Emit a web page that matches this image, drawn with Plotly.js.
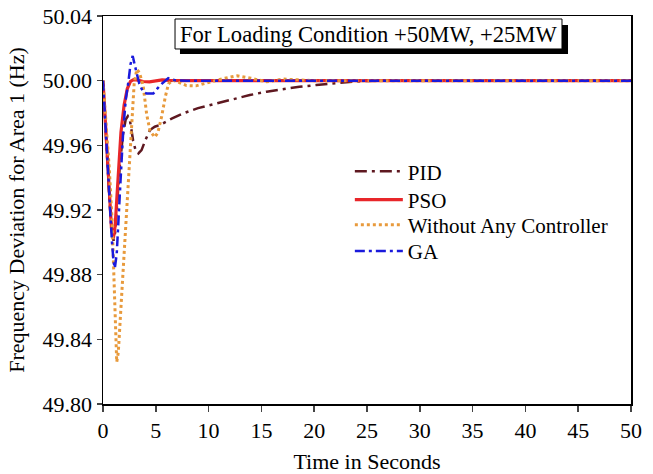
<!DOCTYPE html>
<html>
<head>
<meta charset="utf-8">
<script src="https://cdn.plot.ly/plotly-3.0.1.min.js"></script>
<style>html,body{margin:0;padding:0;background:#fff;}#chart{width:653px;height:474px;}</style>
</head>
<body>
<div id="chart"></div>
<script>
// ---- data ----
const seriesNames = ["PID", "PSO", "Without Any Controller", "GA"];

const tPID = [0, 0.2, 0.4, 0.6, 0.8, 1.0, 1.15, 1.35, 1.6, 1.9, 2.15, 2.35, 2.55, 2.85, 3.1, 3.35, 3.65, 4.0, 4.45, 4.9, 5.4, 6.5, 7.6, 9, 10.8, 12.3, 13.9, 15.5, 17.1, 18.6, 20.2, 22.1, 23.6, 25, 27, 50];
const fPID = [50.000, 49.975, 49.950, 49.927, 49.909, 49.901, 49.906, 49.925, 49.948, 49.967, 49.976, 49.978, 49.9755, 49.963, 49.9565, 49.955, 49.957, 49.963, 49.9695, 49.9715, 49.9726, 49.9765, 49.9798, 49.983, 49.986, 49.9888, 49.9911, 49.9932, 49.9948, 49.9962, 49.9973, 49.9987, 49.9994, 49.9998, 50.000, 50.000];

const tPSO = [0, 0.2, 0.4, 0.6, 0.8, 0.98, 1.15, 1.3, 1.45, 1.7, 2.0, 2.3, 2.6, 2.9, 3.3, 3.8, 4.4, 5.0, 5.6, 6.3, 7.5, 50];
const fPSO = [50.000, 49.975, 49.950, 49.927, 49.909, 49.9025, 49.910, 49.926, 49.945, 49.968, 49.985, 49.995, 49.9995, 50.0006, 50.0003, 49.9995, 49.9993, 49.9998, 50.0005, 50.0002, 50.000, 50.000];

const tNone = [0, 0.3, 0.6, 0.85, 1.05, 1.2, 1.3, 1.45, 1.7, 2.0, 2.4, 2.72, 2.95, 3.2, 3.45, 3.8, 4.14, 4.45, 4.9, 5.2, 5.56, 5.9, 6.2, 6.6, 7.2, 7.9, 8.8, 10, 11.5, 12.7, 14, 15.5, 17, 18.5, 20, 50];
const fNone = [50.000, 49.975, 49.945, 49.915, 49.870, 49.840, 49.826, 49.832, 49.860, 49.895, 49.940, 49.980, 49.998, 50.007, 50.005, 49.997, 49.979, 49.969, 49.965, 49.968, 49.978, 49.990, 49.998, 50.0005, 49.999, 49.997, 49.9968, 49.999, 50.0015, 50.003, 50.0015, 49.9993, 50.001, 50.0005, 50.000, 50.000];

const tGA = [0, 0.2, 0.4, 0.66, 0.85, 1.0, 1.12, 1.3, 1.5, 1.7, 1.92, 2.15, 2.4, 2.6, 2.81, 2.95, 3.12, 3.44, 3.8, 4.14, 4.76, 5.2, 5.56, 6.18, 6.8, 8, 50];
const fGA = [50.000, 49.975, 49.952, 49.926, 49.900, 49.888, 49.884, 49.893, 49.915, 49.943, 49.9695, 49.988, 49.999, 50.010, 50.0153, 50.012, 50.0066, 49.998, 49.993, 49.992, 49.992, 49.9955, 49.998, 50.0015, 50.0003, 50.000, 50.000];

const xTickVals = [0, 5, 10, 15, 20, 25, 30, 35, 40, 45, 50];
const yTickVals = [49.80, 49.84, 49.88, 49.92, 49.96, 50.00, 50.04];
const titleText = "For Loading Condition +50MW, +25MW";
const xTitle = "Time in Seconds";
const yTitle = "Frequency Deviation for Area 1 (Hz)";

// ---- chart ----
const FONT = "Liberation Serif, Times New Roman, serif";
const legendIds = ["legend", "legend2", "legend3", "legend4"];
const legendRowY = [0.5987, 0.5258, 0.4614, 0.3933];

const traces = [
  {x: tPID, y: fPID, name: seriesNames[0], mode: "lines", legend: legendIds[0],
   line: {color: "#5e1820", width: 2.5, dash: "12px,5px,3px,5px"}},
  {x: tPSO, y: fPSO, name: seriesNames[1], mode: "lines", legend: legendIds[1],
   line: {color: "#e8262a", width: 3.2}},
  {x: tNone, y: fNone, name: seriesNames[2], mode: "lines", legend: legendIds[2],
   line: {color: "#e89a3c", width: 3, dash: "3px,3px"}},
  {x: tGA, y: fGA, name: seriesNames[3], mode: "lines", legend: legendIds[3],
   line: {color: "#1a1adc", width: 2.5, dash: "10px,4px,3px,4px"}}
];

const axFont = {family: FONT, size: 22, color: "#000"};
const layout = {
  width: 653, height: 474,
  margin: {l: 103, r: 22, t: 16, b: 70, pad: 0},
  paper_bgcolor: "#fff", plot_bgcolor: "#fff",
  showlegend: true,
  hovermode: false,
  xaxis: {
    range: [0, 50], tickvals: xTickVals, ticks: "outside", ticklen: 6, tickwidth: 1.5,
    showline: true, linewidth: 1.5, linecolor: "#000", mirror: true,
    showgrid: false, zeroline: false, tickfont: axFont,
    title: {text: xTitle, font: axFont, standoff: 18}
  },
  yaxis: {
    range: [49.80, 50.04], tickvals: yTickVals, tickformat: ".2f", ticks: "outside", ticklen: 5, tickwidth: 1.5,
    showline: true, linewidth: 1.5, linecolor: "#000", mirror: true,
    showgrid: false, zeroline: false, tickfont: axFont,
    title: {text: yTitle, font: axFont, standoff: 12}
  },
  xaxis2: {
    overlaying: "x", anchor: "y", side: "bottom", range: [0, 50], tickvals: xTickVals,
    ticks: "inside", ticklen: 6, tickwidth: 1.5, showticklabels: false, showline: false,
    showgrid: false, zeroline: false,
    minor: {dtick: 2.5, tick0: 0, ticks: "inside", ticklen: 3, tickwidth: 1.2, tickcolor: "#000"}
  },
  yaxis2: {
    overlaying: "y", anchor: "x", side: "left", range: [49.80, 50.04], tickvals: yTickVals,
    ticks: "inside", ticklen: 5, tickwidth: 1.5, showticklabels: false, showline: false,
    showgrid: false, zeroline: false,
    minor: {dtick: 0.02, tick0: 49.80, ticks: "inside", ticklen: 3, tickwidth: 1.2, tickcolor: "#000"}
  },
  shapes: [
    {type: "rect", xref: "paper", yref: "paper", x0: 0.1458, x1: 0.8807, y0: 0.902, y1: 0.9768,
     fillcolor: "#000", line: {width: 0}, layer: "above"},
    {type: "rect", xref: "paper", yref: "paper", x0: 0.1364, x1: 0.8693, y0: 0.915, y1: 0.9923,
     fillcolor: "#fff", line: {color: "#000", width: 1}, layer: "above"}
  ],
  annotations: [
    {text: titleText, xref: "paper", yref: "paper", x: 0.503, y: 0.9536,
     xanchor: "center", yanchor: "middle", showarrow: false,
     font: {family: FONT, size: 22.6, color: "#000"}}
  ]
};

legendIds.forEach((id, i) => {
  layout[id] = {
    x: 0.4675, y: legendRowY[i], xanchor: "left", yanchor: "middle",
    bgcolor: "rgba(0,0,0,0)", borderwidth: 0,
    font: {family: FONT, size: 21, color: "#000"},
    itemwidth: 48
  };
});

Plotly.newPlot("chart", traces, layout, {displayModeBar: false, staticPlot: true});
</script>
</body>
</html>
